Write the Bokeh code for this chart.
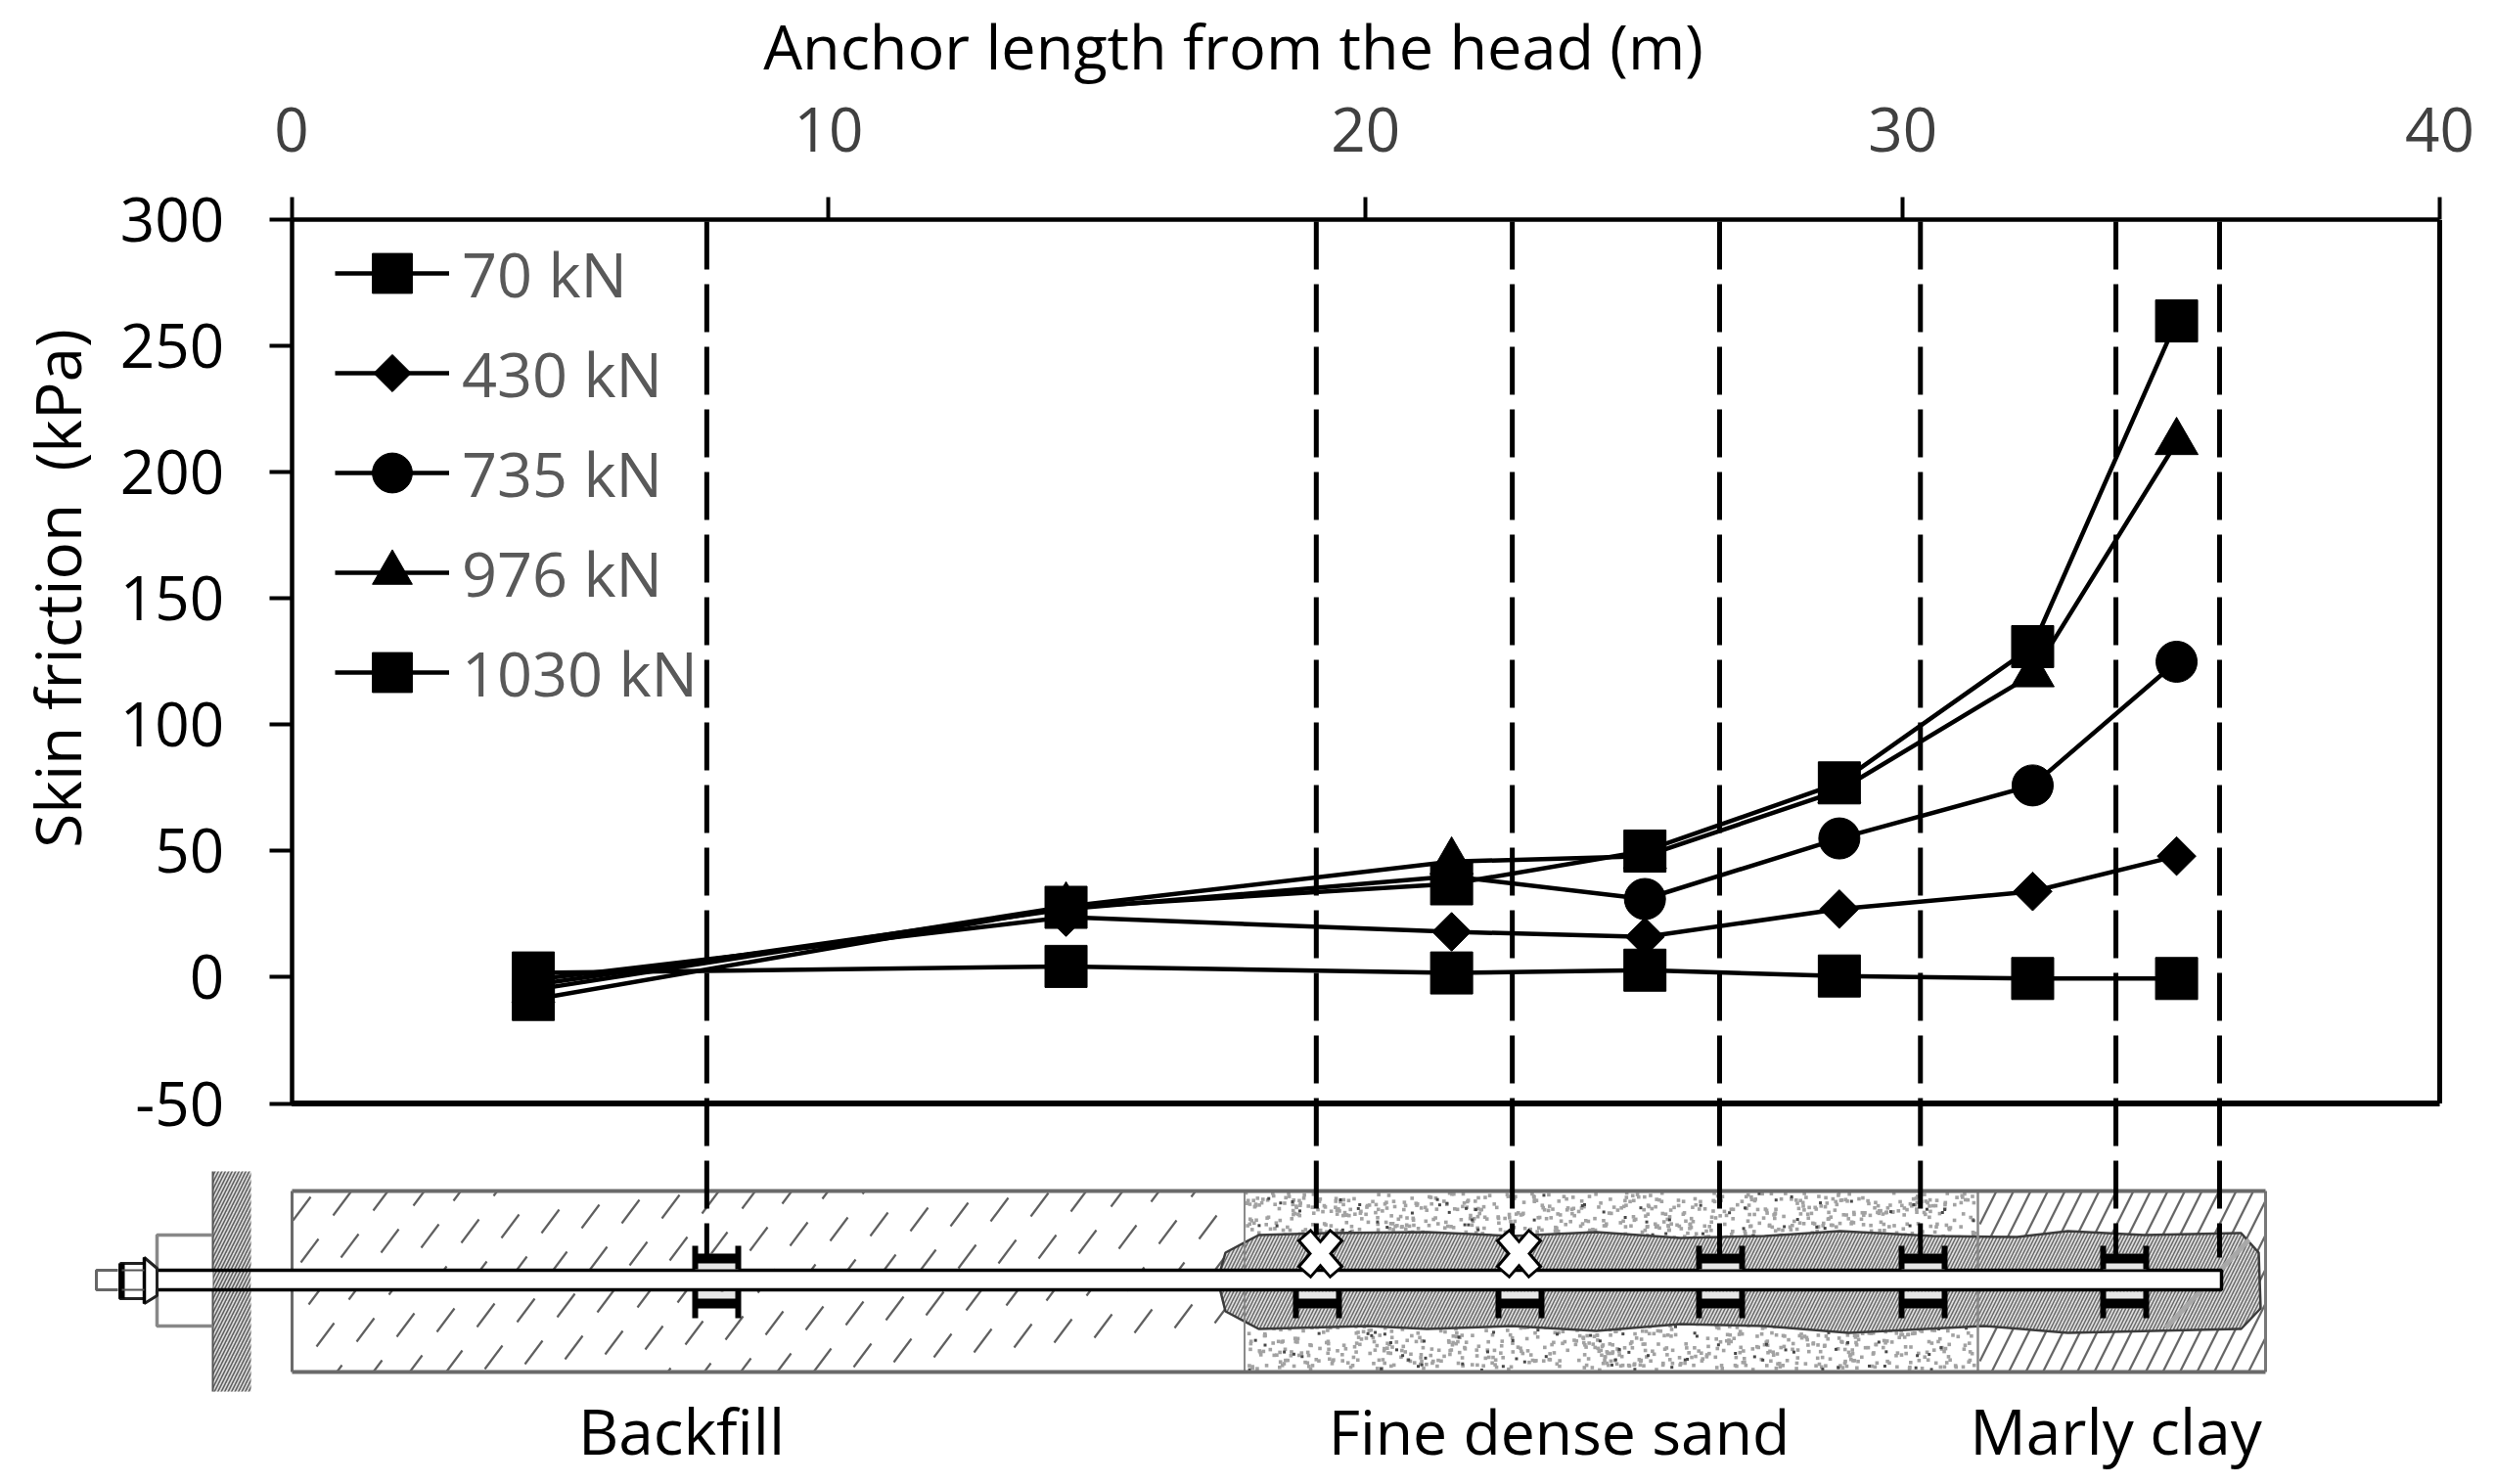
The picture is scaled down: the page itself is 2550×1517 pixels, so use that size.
from bokeh.plotting import figure
from bokeh.models import FixedTicker, Range1d, Legend, LegendItem, Label, ColumnDataSource
from bokeh.embed import file_html
from bokeh.resources import INLINE
import numpy as np

# ---- chart data ----
anchor_m = [4.5, 14.42, 21.6, 25.2, 28.82, 32.42, 35.1]
f70 = [1.7, 4.3, 1.7, 2.8, 0.5, -0.5, -0.5]
f430 = [-1, 23.8, 18, 16, 27, 34, 48]
f735 = [-3, 27, 40, 31, 55, 76, 125]
f976 = [-5, 28, 45.8, 48, 74, 120, 212]
f1030 = [-8.8, 27.7, 37, 50, 77, 131, 260]
series_names = ["70 kN", "430 kN", "735 kN", "976 kN", "1030 kN"]
gauge_m = [7.73, 19.08, 22.73, 26.59, 30.33, 33.97, 35.9]
x_ticks = [0, 10, 20, 30, 40]
y_ticks = [-50, 0, 50, 100, 150, 200, 250, 300]

# ---- page geometry ----
W, H = 2534, 1512
X0, X40 = 297.6, 2493.0
Y300, Ym50 = 224.4, 1127.5
sx = (X40 - X0) / 40
sy = (Ym50 - Y300) / 350
FONT = "Open Sans"

p = figure(width=W, height=H, output_backend="svg", toolbar_location=None,
           x_range=Range1d(-X0 / sx, (W - X0) / sx),
           y_range=Range1d(300 - (H - Y300) / sy, 300 + Y300 / sy),
           x_axis_location="above", y_axis_location="left", min_border=0)
p.extra_x_ranges["page"] = Range1d(0, W)
p.extra_y_ranges["page"] = Range1d(H, 0)
p.xgrid.visible = False
p.ygrid.visible = False
p.outline_line_color = None
P = dict(x_range_name="page", y_range_name="page")

# ---- axes ----
for ax, ticks, col, standoff in ((p.xaxis[0], x_ticks, "#404040", 47), (p.yaxis[0], y_ticks, "black", 46)):
    ax.ticker = FixedTicker(ticks=ticks)
    ax.axis_line_width = 4.5
    ax.axis_line_color = "black"
    ax.major_tick_line_width = 4
    ax.major_tick_line_color = "black"
    ax.major_tick_out = 23
    ax.major_tick_in = 0
    ax.minor_tick_line_color = None
    ax.major_label_text_font = FONT
    ax.major_label_text_font_size = "62px"
    ax.major_label_text_color = col
    ax.major_label_standoff = standoff
p.yaxis[0].major_label_overrides = {-50: "-50"}
p.xaxis[0].fixed_location = 300
p.yaxis[0].fixed_location = 0
p.xaxis[0].bounds = (0, 40)
p.yaxis[0].bounds = (-50, 300)

# ---- section drawing: soil blocks ----
BOX_T, BOX_B = 1217, 1402
# backfill dashes: a staggered lattice of short slanted strokes
bx, by = [], []
for i in range(-6, 34):
    for j in range(-3, 6):
        xb = 299 + i * 41 + j * 8
        yb = 1247 - i * 5 + j * 43
        xt, yt = xb + 18, yb - 24
        if xb < 299 or xt > 1270 or yb < BOX_T or yt > BOX_B:
            continue
        if yb > BOX_B:
            xb, yb = xb + (yb - BOX_B) * 0.75, BOX_B
        if yt < BOX_T:
            xt, yt = xt - (BOX_T - yt) * 0.75, BOX_T
        bx.append([xb, xt]); by.append([yb, yt])
p.multi_line(bx, by, line_color="#5f5f5f", line_width=2.2, **P)

# sand stipple (texture only, deterministic)
n = 2800
k = np.arange(n)
fr = (k * 0.6180339887) % 1
fs = (k * k * 0.41421356 + k * 0.2718) % 1
p.scatter(1273 + fr[:2500] * 746, BOX_T + 2 + fs[:2500] * 181, size=3.6, marker="square",
          fill_color="#a2a2a2", line_color=None, **P)
p.scatter(1273 + fr[2500:] * 746, BOX_T + 2 + fs[2500:] * 181, size=3, marker="square",
          fill_color="#484848", line_color=None, **P)

# marly clay hatch
cx, cy = [], []
for xx in np.arange(1930, 2320, 17.5):
    xa, xb_, ya, yb_ = xx, xx + 92.5, BOX_B, BOX_T
    if xa < 2023:
        ya = BOX_B - (2023 - xa) * 2
        xa = 2023
    if xb_ > 2315:
        yb_ = BOX_B - (2315 - xa) * 2
        xb_ = 2315
    if xb_ > xa:
        cx.append([xa, xb_]); cy.append([ya, yb_])
p.multi_line(cx, cy, line_color="#666666", line_width=2.2, **P)

# grout body
gx = [1286, 1355, 1458, 1545, 1631, 1717, 1803, 1880, 1975, 2061, 2113, 2191, 2290, 2308,
      2310, 2290, 2113, 2027, 1889, 1803, 1717, 1631, 1545, 1458, 1398, 1286, 1252, 1244, 1252]
gy = [1262, 1260, 1259, 1263, 1259, 1265, 1263, 1258, 1263, 1264, 1258, 1262, 1260, 1280,
      1337, 1358, 1362, 1355, 1362, 1355, 1353, 1360, 1355, 1358, 1355, 1358, 1340, 1308, 1280]
p.patch(gx, gy, fill_color="#dedede", line_color="#3c3c3c", line_width=2.5,
        hatch_pattern="right_diagonal_line", hatch_color="#6a6a6a", hatch_scale=7, hatch_weight=1.5, **P)
p.line([2298, 2213], [1267, 1357], line_color="#a8a8a8", line_width=5, **P)

# soil block outlines
for xx, cc, lw in ((298, "#6a6a6a", 3), (1271.5, "#8a8a8a", 2), (2021, "#8a8a8a", 2.5), (2315, "#777777", 3)):
    p.line([xx, xx], [BOX_T, BOX_B], line_color=cc, line_width=lw, **P)
for yy in (BOX_T, BOX_B):
    p.line([298, 2315], [yy, yy], line_color="#6a6a6a", line_width=4, **P)

# wall, plate, nut
p.quad(left=217, right=256, top=1197, bottom=1422, fill_color="#dcdcdc", line_color=None,
       hatch_pattern="right_diagonal_line", hatch_color="#606060", hatch_scale=7, hatch_weight=1.6, **P)
p.line([217, 217], [1197, 1422], line_color="#555555", line_width=2, **P)
p.line([217, 160, 160, 217], [1262, 1262, 1355, 1355], line_color="#888888", line_width=3.5, **P)

# rod
p.quad(left=98, right=217, top=1298, bottom=1318, fill_color="white", line_color=None, **P)
p.quad(left=256, right=2270, top=1298, bottom=1318, fill_color="white", line_color=None, **P)
p.line([160, 2270, 2270, 160], [1298, 1298, 1318, 1318], line_color="black", line_width=3.5, **P)
p.line([120, 98, 98, 120], [1298, 1298, 1318, 1318], line_color="#666666", line_width=3, **P)
p.line([122, 147, 147, 160, 160, 147, 147, 122, 122], [1291, 1291, 1285, 1296, 1324, 1332, 1327, 1327, 1291],
       line_color="#222222", line_width=3, **P)
p.multi_line([[124, 124], [147, 147]], [[1291, 1327], [1285, 1332]], line_color="black", line_width=[6, 3.5], **P)
p.line([124, 147], [1298, 1298], line_color="#555555", line_width=2, **P)
p.line([124, 147], [1318, 1318], line_color="#555555", line_width=2, **P)

# strain gauges
g_centres = [732, 1346, 1553, 1758, 1965, 2171]
for i, c in enumerate(g_centres):
    if i not in (1, 2):
        p.quad(left=c - 22, right=c + 22, top=1297, bottom=1281, fill_color="#e6e6e6", line_color=None, **P)
        p.quad(left=c - 22, right=c + 22, top=1281, bottom=1291, fill_color="black", line_color=None, **P)
        p.multi_line([[c - 22, c - 22], [c + 22, c + 22]], [[1273, 1297], [1273, 1297]],
                     line_color="black", line_width=6, **P)
    p.quad(left=c - 22, right=c + 22, top=1320, bottom=1337, fill_color="#e6e6e6", line_color=None, **P)
    p.quad(left=c - 22, right=c + 22, top=1327, bottom=1337, fill_color="black", line_color=None, **P)
    p.multi_line([[c - 22, c - 22], [c + 22, c + 22]], [[1319, 1347], [1319, 1347]],
                 line_color="black", line_width=6, **P)

# dashed gauge lines
dash_end = [1282, 1262, 1262, 1282, 1282, 1282, 1285]
p.multi_line([[m, m] for m in gauge_m], [[226, e] for e in dash_end], line_color="black",
             line_width=5, line_dash="49 15", y_range_name="page")

# broken gauges
for c in (1349, 1552):
    p.multi_line([[c - 17, c + 17], [c - 17, c + 17]], [[1261.5, 1300.5], [1300.5, 1261.5]],
                 line_color="black", line_width=19, **P)
    p.multi_line([[c - 15, c + 15], [c - 15, c + 15]], [[1263.5, 1298.5], [1298.5, 1263.5]],
                 line_color="white", line_width=13, **P)

# ---- frame ----
p.line([0, 40], [-50, -50], line_color="black", line_width=6)
p.line([40, 40], [-50, 300], line_color="black", line_width=5)

# ---- series ----
markers = ["square", "square", "circle", "triangle", "square"]
angles = [0, np.pi / 4, 0, 0, 0]
sizes = [43, 28, 42, 44, 43]
items = []
for idx, (name, vals, mk, sz, an) in enumerate(zip(series_names, [f70, f430, f735, f976, f1030], markers, sizes, angles)):
    src = ColumnDataSource(dict(x=anchor_m, y=vals))
    l = p.line("x", "y", source=src, line_color="black", line_width=4.5)
    s = p.scatter("x", "y", source=src, marker=mk, size=sz, angle=an, fill_color="black", line_color="black")
    items.append(LegendItem(label=name, renderers=[l] if an else [l, s]))

LEG_TOP = 228
leg = Legend(items=items, location=(342, H - LEG_TOP - 510), orientation="vertical", glyph_width=117, glyph_height=102,
             spacing=0, padding=0, margin=0, label_standoff=13, border_line_color=None,
             background_fill_alpha=0, label_text_font=FONT, label_text_font_size="63px",
             label_text_color="#595959", label_height=60)
p.add_layout(leg)
# legend key for the rotated-square series
p.scatter([400.5], [LEG_TOP + 102 + 51], marker="square", angle=np.pi / 4, size=27,
          fill_color="black", line_color="black", level="overlay", **P)

# ---- texts ----
def label(txt, x, y, size, angle=0, col="black"):
    p.add_layout(Label(x=x, y=y, text=txt, text_font=FONT, text_font_size=size, angle=angle,
                       text_align="center", text_baseline="middle", text_color=col, **P))

label("Anchor length from the head (m)", 1260, 46, "63px")
label("Skin friction \u00a0(kPa)", 58, 601, "64px", angle=np.pi / 2)
label("Backfill", 696, 1462, "64px")
label("Fine dense sand", 1593, 1462, "62.5px")
label("Marly clay", 2162, 1462, "64px")

open("out.html", "w").write(file_html(p, INLINE))
